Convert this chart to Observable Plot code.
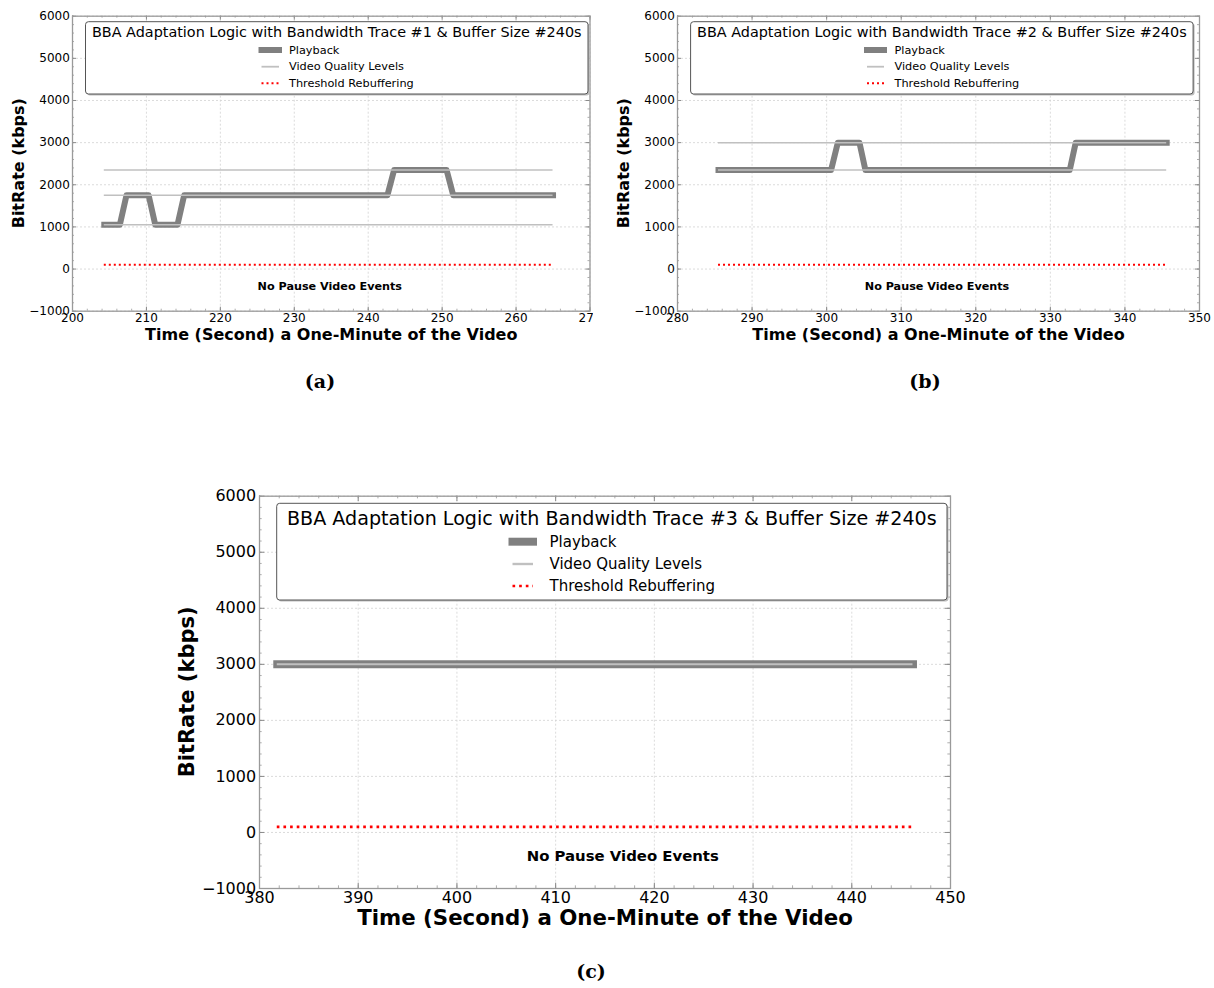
<!DOCTYPE html>
<html><head><meta charset="utf-8">
<script src="https://cdn.jsdelivr.net/npm/d3@7"></script>
<script src="https://cdn.jsdelivr.net/npm/@observablehq/plot@0.6"></script>
<style>
body{margin:0;background:#fff;}
#page{position:relative;width:1214px;height:988px;overflow:hidden;background:#fff;font-family:"DejaVu Sans";}
.panel{position:absolute;}
#overlay{position:absolute;left:0;top:0;pointer-events:none;}
</style></head><body><div id="page"></div>
<script>
// ---------------- data ----------------
const legendTitles = [
  "BBA Adaptation Logic with Bandwidth Trace #1 & Buffer Size #240s",
  "BBA Adaptation Logic with Bandwidth Trace #2 & Buffer Size #240s",
  "BBA Adaptation Logic with Bandwidth Trace #3 & Buffer Size #240s"
];
const legendLabels = ["Playback", "Video Quality Levels", "Threshold Rebuffering"];
const xAxisLabel = "Time (Second) a One-Minute of the Video";
const yAxisLabel = "BitRate (kbps)";
const captions = ["(a)", "(b)", "(c)"];
const noteText = "No Pause Video Events";

const timeA = [204.3, 206.4, 207.3, 210.3, 211.2, 214.2, 215.1, 242.6, 243.5, 250.6, 251.5, 265.0];
const rateA = [1050, 1050, 1750, 1750, 1050, 1050, 1750, 1750, 2350, 2350, 1750, 1750];
const timeB = [285.5, 300.6, 301.5, 304.4, 305.2, 332.6, 333.4, 345.6];
const rateB = [2350, 2350, 3000, 3000, 2350, 2350, 3000, 3000];
const timeC = [381.8, 446.2];
const rateC = [3000, 3000];

const levelsA = [1050, 1750, 2350];
const levelsB = [2350, 3000];
const levelsC = [3000];
const thresholdRate = 100;

const noteX = [234.8, 314.8, 416.8];
const noteY = -420;

const xTicksA = [200, 210, 220, 230, 240, 250, 260, 270];
const xTicksB = [280, 290, 300, 310, 320, 330, 340, 350];
const xTicksC = [380, 390, 400, 410, 420, 430, 440, 450];
const yTicks = [-1000, 0, 1000, 2000, 3000, 4000, 5000, 6000];

// ---------------- layout ----------------
const page = document.getElementById("page");
const panels = [
  {time: timeA, rate: rateA, levels: levelsA, xTicks: xTicksA, note: noteX[0],
   left: 0, top: 0, width: 593, height: 350, ml: 72, mr: 3.5, mt: 15.7, mb: 39.3, s: 1,
   xlabDy: 23.3, ylabDx: 53.4, labSize: 16},
  {time: timeB, rate: rateB, levels: levelsB, xTicks: xTicksB, note: noteX[1],
   left: 605, top: 0, width: 609, height: 350, ml: 72, mr: 15, mt: 15.7, mb: 39.3, s: 1,
   xlabDy: 23.3, ylabDx: 53.4, labSize: 16},
  {time: timeC, rate: rateC, levels: levelsC, xTicks: xTicksC, note: noteX[2],
   left: 170, top: 480, width: 800, height: 460, ml: 89, mr: 20, mt: 15.7, mb: 52, s: 1.33,
   xlabDy: 30, ylabDx: 72.3, labSize: 21}
];

const overlay = d3.select(page).append("svg").attr("id", "overlay")
  .attr("width", 1214).attr("height", 988);

panels.forEach((p, i) => {
  const s = p.s;
  const plotW = p.width - p.ml - p.mr;
  const plotH = p.height - p.mt - p.mb;
  const x0 = p.xTicks[0], x1 = p.xTicks[p.xTicks.length - 1];
  const minorX = d3.range(x0, x1 + 0.001, 2);
  const minorY = d3.range(-1000, 6000.001, 200);
  const series = p.time.map((t, k) => ({t, r: p.rate[k]}));
  const tStart = p.time[0], tEnd = p.time[p.time.length - 1];
  const majorLen = 4 * s, minorLen = 2 * s;
  const tickStroke = "#8a8a8a";
  const gridStyle = {stroke: "#d2d2d2", strokeOpacity: 1, strokeWidth: 0.8, strokeDasharray: "2,2"};
  const chart = Plot.plot({
    width: p.width, height: p.height,
    marginLeft: p.ml, marginRight: p.mr, marginTop: p.mt, marginBottom: p.mb,
    style: {fontFamily: "DejaVu Sans", fontSize: (12 * s) + "px", color: "#000", background: "transparent"},
    x: {domain: [x0, x1], label: null},
    y: {domain: [-1000, 6000], label: null},
    marks: [
      Plot.gridX(p.xTicks, gridStyle),
      Plot.gridY(yTicks, gridStyle),
      // inward ticks
      Plot.tickX(p.xTicks, {x: d => d, insetTop: plotH - majorLen, stroke: tickStroke}),
      Plot.tickX(p.xTicks, {x: d => d, insetBottom: plotH - majorLen, stroke: tickStroke}),
      Plot.tickX(minorX, {x: d => d, insetTop: plotH - minorLen, stroke: tickStroke, strokeWidth: 0.7}),
      Plot.tickX(minorX, {x: d => d, insetBottom: plotH - minorLen, stroke: tickStroke, strokeWidth: 0.7}),
      Plot.tickY(yTicks, {y: d => d, insetRight: plotW - majorLen, stroke: tickStroke}),
      Plot.tickY(yTicks, {y: d => d, insetLeft: plotW - majorLen, stroke: tickStroke}),
      Plot.tickY(minorY, {y: d => d, insetRight: plotW - minorLen, stroke: tickStroke, strokeWidth: 0.7}),
      Plot.tickY(minorY, {y: d => d, insetLeft: plotW - minorLen, stroke: tickStroke, strokeWidth: 0.7}),
      Plot.axisX(p.xTicks, {anchor: "bottom", tickSize: 0, tickPadding: 2 * s, label: null, tickFormat: d3.format("d")}),
      Plot.axisY(yTicks, {anchor: "left", tickSize: 0, tickPadding: 2.6 * s, label: null, tickFormat: d3.format("d")}),
      // playback
      Plot.line(series, {x: "t", y: "r", stroke: "#808080", strokeWidth: 6 * s,
        strokeLinecap: "square", strokeLinejoin: "round"}),
      // quality levels
      Plot.ruleY(p.levels, {y: d => d, x1: tStart, x2: tEnd, stroke: "#c0c0c0", strokeWidth: 1.5 * s}),
      // threshold
      Plot.ruleY([thresholdRate], {y: d => d, x1: tStart, x2: tEnd, stroke: "#ff0000",
        strokeWidth: 2 * s, strokeDasharray: `${2 * s},${3 * s}`}),
      Plot.text([noteText], {x: p.note, y: noteY, fontWeight: "bold", fontSize: 11.2 * s}),
      Plot.frame({stroke: "#9a9a9a", strokeWidth: 1.3}),
      Plot.text([xAxisLabel], {frameAnchor: "bottom", dy: p.xlabDy, fontSize: p.labSize * (s > 1 ? 1.015 : 1),
        fontWeight: "bold", lineAnchor: "middle"})
    ]
  });
  const wrap = document.createElement("div");
  wrap.className = "panel";
  wrap.style.left = p.left + "px";
  wrap.style.top = p.top + "px";
  wrap.style.width = p.width + "px";
  wrap.style.height = p.height + "px";
  wrap.style.overflow = "hidden";
  wrap.appendChild(chart);
  page.insertBefore(wrap, overlay.node());

  // rotated y-axis label
  const lx = p.left + p.ml - p.ylabDx;
  const ly = p.top + p.mt + plotH / 2;
  overlay.append("text")
    .attr("transform", `translate(${lx},${ly}) rotate(-90)`)
    .attr("text-anchor", "middle").attr("dominant-baseline", "central")
    .attr("font-family", "DejaVu Sans").attr("font-weight", "bold")
    .attr("font-size", p.labSize).text(yAxisLabel);
});

// ---------------- legends & captions ----------------
const legends = [
  {bx: 85.5, by: 21.7, bw: 502.5, bh: 72.3, titleY: 32.2, titleSize: 14.4, rows: [50, 66.7, 83.3],
   sw: [261.5, 279], textX: 289, itemSize: 11.3, s: 1},
  {bx: 690.6, by: 21.7, bw: 502.5, bh: 72.3, titleY: 32.2, titleSize: 14.4, rows: [50, 66.7, 83.3],
   sw: [867, 884], textX: 894.5, itemSize: 11.3, s: 1},
  {bx: 276.7, by: 503.3, bw: 670.3, bh: 96.7, titleY: 518.3, titleSize: 19.1, rows: [541.7, 564, 586],
   sw: [512.5, 533], textX: 549.5, itemSize: 15, s: 1.33}
];

legends.forEach((L, i) => {
  const g = overlay.append("g");
  g.append("rect").attr("x", L.bx + 1.5).attr("y", L.by + 1.5).attr("width", L.bw).attr("height", L.bh)
    .attr("rx", 3).attr("fill", "#bdbdbd");
  g.append("rect").attr("x", L.bx).attr("y", L.by).attr("width", L.bw).attr("height", L.bh)
    .attr("rx", 3).attr("fill", "#fff").attr("stroke", "#555").attr("stroke-width", 1);
  g.append("text").attr("x", L.bx + L.bw / 2).attr("y", L.titleY)
    .attr("text-anchor", "middle").attr("dominant-baseline", "central")
    .attr("font-family", "DejaVu Sans").attr("font-size", L.titleSize).text(legendTitles[i]);
  g.append("line").attr("x1", L.sw[0]).attr("x2", L.sw[1]).attr("y1", L.rows[0]).attr("y2", L.rows[0])
    .attr("stroke", "#808080").attr("stroke-width", 6 * L.s).attr("stroke-linecap", "square");
  g.append("line").attr("x1", L.sw[0]).attr("x2", L.sw[1]).attr("y1", L.rows[1]).attr("y2", L.rows[1])
    .attr("stroke", "#c0c0c0").attr("stroke-width", 1.8 * L.s);
  g.append("line").attr("x1", L.sw[0]).attr("x2", L.sw[1]).attr("y1", L.rows[2]).attr("y2", L.rows[2])
    .attr("stroke", "#ff0000").attr("stroke-width", 2 * L.s).attr("stroke-dasharray", `${2 * L.s},${3 * L.s}`);
  legendLabels.forEach((lab, k) => {
    g.append("text").attr("x", L.textX).attr("y", L.rows[k])
      .attr("dominant-baseline", "central").attr("font-family", "DejaVu Sans")
      .attr("font-size", L.itemSize).text(lab);
  });
});

const capPos = [[320, 381], [925, 381], [591, 971]];
captions.forEach((c, i) => {
  overlay.append("text").attr("x", capPos[i][0]).attr("y", capPos[i][1])
    .attr("text-anchor", "middle").attr("dominant-baseline", "central")
    .attr("font-family", "DejaVu Serif").attr("font-weight", "bold").attr("font-size", 19).text(c);
});
</script>
</body></html>
